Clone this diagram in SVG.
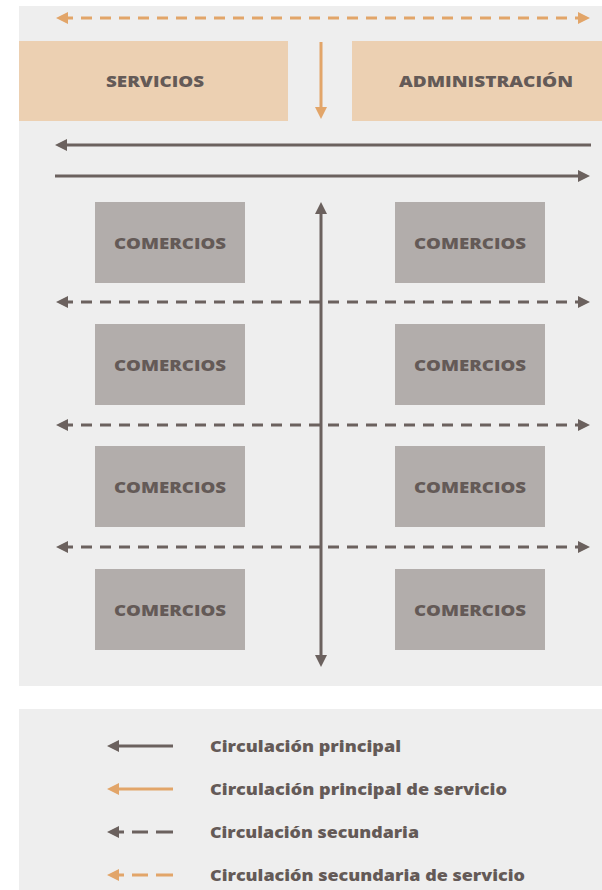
<svg xmlns="http://www.w3.org/2000/svg" width="602" height="890" viewBox="0 0 602 890">
  <style>
    .panel { fill: #eeeeee; }
    .srv { fill: #ecd0b2; }
    .shop { fill: #b2adab; }
    .lbl { font-family: "Open Sans", "DejaVu Sans", sans-serif; font-weight: 800; font-size: 15px; fill: #645a57; text-anchor: middle; dominant-baseline: central; }
    .leg { font-family: "Open Sans", "DejaVu Sans", sans-serif; font-weight: 800; font-size: 15px; fill: #645a57; dominant-baseline: central; }
    .main { stroke: #6b615e; stroke-width: 3; fill: none; }
    .main-s { stroke: #e2a569; stroke-width: 3; fill: none; }
    .dash { stroke-dasharray: 11 8; }
  </style>
  <defs>
    <marker id="ahDark" viewBox="0 0 10 10" refX="5" refY="5" markerWidth="4" markerHeight="4" markerUnits="strokeWidth" orient="auto-start-reverse">
      <path d="M0,0 L10,5 L0,10 Z" fill="#6b615e"/>
    </marker>
    <marker id="ahOrange" viewBox="0 0 10 10" refX="5" refY="5" markerWidth="4" markerHeight="4" markerUnits="strokeWidth" orient="auto-start-reverse">
      <path d="M0,0 L10,5 L0,10 Z" fill="#e2a569"/>
    </marker>
  </defs>

  <!-- plan background -->
  <rect class="panel" x="19" y="6" width="583" height="680"/>

  <!-- service blocks -->
  <g id="servicios">
    <rect class="srv" x="19" y="41" width="269" height="80"/>
    <text class="lbl" x="155" y="81" textLength="98" lengthAdjust="spacingAndGlyphs">SERVICIOS</text>
  </g>
  <g id="administracion">
    <rect class="srv" x="352" y="41" width="250" height="80"/>
    <text class="lbl" x="486" y="81" textLength="174" lengthAdjust="spacingAndGlyphs">ADMINISTRACIÓN</text>
  </g>

  <!-- shops -->
  <g id="comercio-1"><rect class="shop" x="95" y="202" width="150" height="81"/><text class="lbl" x="170" y="242.5" textLength="112" lengthAdjust="spacingAndGlyphs">COMERCIOS</text></g>
  <g id="comercio-2"><rect class="shop" x="395" y="202" width="150" height="81"/><text class="lbl" x="470" y="242.5" textLength="112" lengthAdjust="spacingAndGlyphs">COMERCIOS</text></g>
  <g id="comercio-3"><rect class="shop" x="95" y="324" width="150" height="81"/><text class="lbl" x="170" y="364.5" textLength="112" lengthAdjust="spacingAndGlyphs">COMERCIOS</text></g>
  <g id="comercio-4"><rect class="shop" x="395" y="324" width="150" height="81"/><text class="lbl" x="470" y="364.5" textLength="112" lengthAdjust="spacingAndGlyphs">COMERCIOS</text></g>
  <g id="comercio-5"><rect class="shop" x="95" y="446" width="150" height="81"/><text class="lbl" x="170" y="486.5" textLength="112" lengthAdjust="spacingAndGlyphs">COMERCIOS</text></g>
  <g id="comercio-6"><rect class="shop" x="395" y="446" width="150" height="81"/><text class="lbl" x="470" y="486.5" textLength="112" lengthAdjust="spacingAndGlyphs">COMERCIOS</text></g>
  <g id="comercio-7"><rect class="shop" x="95" y="569" width="150" height="81"/><text class="lbl" x="170" y="609.5" textLength="112" lengthAdjust="spacingAndGlyphs">COMERCIOS</text></g>
  <g id="comercio-8"><rect class="shop" x="395" y="569" width="150" height="81"/><text class="lbl" x="470" y="609.5" textLength="112" lengthAdjust="spacingAndGlyphs">COMERCIOS</text></g>

  <!-- circulation -->
  <g id="connectors">
    <line class="main-s dash" x1="62" y1="18" x2="584" y2="18" marker-start="url(#ahOrange)" marker-end="url(#ahOrange)"/>
    <line class="main-s" x1="321" y1="42" x2="321" y2="113" marker-end="url(#ahOrange)"/>
    <line class="main" x1="591" y1="145" x2="61" y2="145" marker-end="url(#ahDark)"/>
    <line class="main" x1="55" y1="176" x2="584" y2="176" marker-end="url(#ahDark)"/>
    <line class="main" x1="321" y1="208" x2="321" y2="661" marker-start="url(#ahDark)" marker-end="url(#ahDark)"/>
    <line class="main dash" x1="62" y1="302" x2="584" y2="302" marker-start="url(#ahDark)" marker-end="url(#ahDark)"/>
    <line class="main dash" x1="62" y1="425" x2="584" y2="425" marker-start="url(#ahDark)" marker-end="url(#ahDark)"/>
    <line class="main dash" x1="62" y1="547" x2="584" y2="547" marker-start="url(#ahDark)" marker-end="url(#ahDark)"/>
  </g>

  <!-- legend -->
  <g id="legend">
    <rect class="panel" x="19" y="709" width="583" height="181"/>
    <line class="main" x1="173" y1="746" x2="113" y2="746" marker-end="url(#ahDark)"/>
    <text class="leg" x="210" y="746" textLength="191" lengthAdjust="spacingAndGlyphs">Circulación principal</text>
    <line class="main-s" x1="173" y1="789" x2="113" y2="789" marker-end="url(#ahOrange)"/>
    <text class="leg" x="210" y="789" textLength="297" lengthAdjust="spacingAndGlyphs">Circulación principal de servicio</text>
    <line class="main" x1="113" y1="832" x2="124" y2="832" marker-start="url(#ahDark)"/>
    <line class="main" x1="132" y1="832" x2="148" y2="832"/>
    <line class="main" x1="156" y1="832" x2="173" y2="832"/>
    <text class="leg" x="210" y="832" textLength="209" lengthAdjust="spacingAndGlyphs">Circulación secundaria</text>
    <line class="main-s" x1="113" y1="875" x2="124" y2="875" marker-start="url(#ahOrange)"/>
    <line class="main-s" x1="132" y1="875" x2="148" y2="875"/>
    <line class="main-s" x1="156" y1="875" x2="173" y2="875"/>
    <text class="leg" x="210" y="875" textLength="315" lengthAdjust="spacingAndGlyphs">Circulación secundaria de servicio</text>
  </g>
</svg>
